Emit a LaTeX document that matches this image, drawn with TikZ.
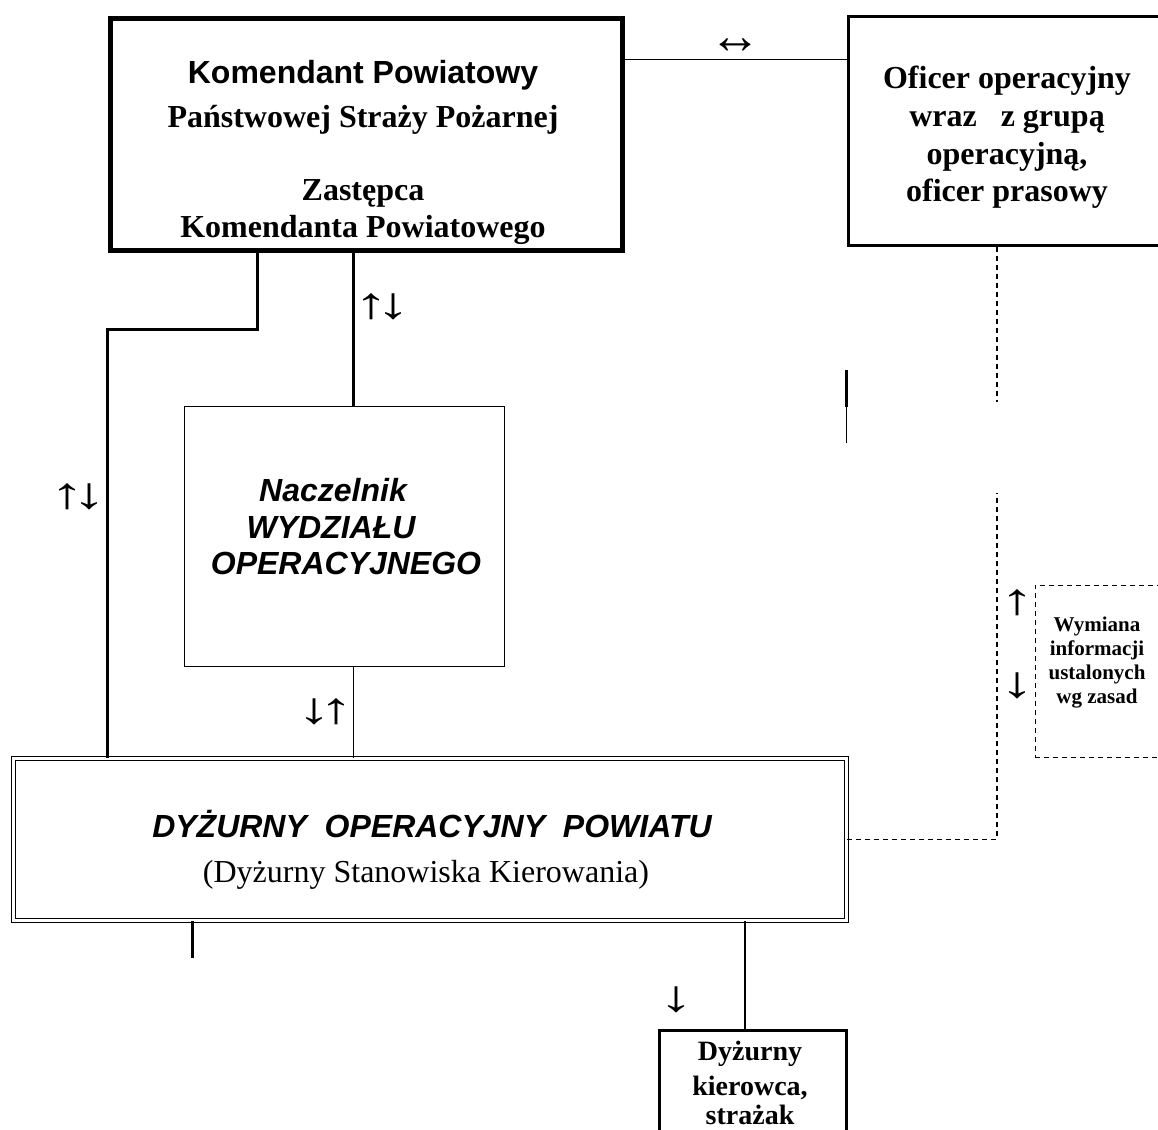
\documentclass[tikz,border=0pt]{standalone}
\usepackage{graphicx}
\usepackage{fontspec}
\setmainfont{Liberation Serif}
\setsansfont{Liberation Sans}
\newcommand{\wideup}{\scalebox{1.7}[1.1]{↑}}
\newcommand{\widedown}{\scalebox{1.7}[1.1]{↓}}
\begin{document}
\begin{tikzpicture}[x=1pt,y=-1pt,
  box/.style={draw, rectangle, inner sep=0pt, anchor=north west},
  big/.style={font=\fontsize{32}{37}\selectfont, inner sep=0pt, anchor=base},
  bigsans/.style={font=\fontsize{32}{37}\selectfont\sffamily\bfseries, inner sep=0pt, anchor=base},
  bigserif/.style={font=\fontsize{32}{37}\selectfont\bfseries, inner sep=0pt, anchor=base},
  bigit/.style={font=\fontsize{32}{37}\selectfont\sffamily\bfseries\itshape, inner sep=0pt, anchor=base},
  midserif/.style={font=\fontsize{28}{34}\selectfont\bfseries, inner sep=0pt, anchor=base},
  smallserif/.style={font=\fontsize{21}{24}\selectfont\bfseries, inner sep=0pt, anchor=base},
  arr/.style={font=\fontsize{40}{42}\selectfont, inner sep=0pt},
  heavy/.style={line width=3pt},
  thinline/.style={line width=1pt},
  dline/.style={line width=1.5pt, dash pattern=on 5pt off 4pt}]
\useasboundingbox (0,0) rectangle (1158,1129);

% boxes
\node[box, line width=5pt, minimum width=512pt, minimum height=231pt] (kom) at (107.5,16.5) {};
\node[box, line width=3pt, minimum width=317pt, minimum height=228pt] (ofi) at (846.5,15.5) {};
\node[box, line width=1.2pt, minimum width=320pt, minimum height=260pt] (nac) at (184,406) {};
\node[box, line width=1.5pt, double, double distance=2.5pt, minimum width=833pt, minimum height=162pt] (main) at (12.5,757.5) {};
\node[box, line width=3pt, minimum width=187pt, minimum height=115pt] (bot) at (657.5,1028.5) {};
\node[box, line width=1.3pt, dash pattern=on 5pt off 4pt, minimum width=135pt, minimum height=172pt] (wym) at (1034.5,584.5) {};

% texts
\node[bigsans] (kt1) at (363,84) {Komendant Powiatowy};
\node[bigserif] (kt2) at (363,128) {Państwowej Straży Pożarnej};
\node[bigserif] (kt3) at (363,200) {Zastępca};
\node[bigserif] (kt4) at (363,237) {Komendanta Powiatowego};

\node[bigserif] (ot1) at (1007,89) {Oficer operacyjny};
\node[bigserif] (ot2) at (1007,127) {wraz\ \ \ z grupą};
\node[bigserif] (ot3) at (1007,164) {operacyjną,};
\node[bigserif] (ot4) at (1007,201) {oficer prasowy};

\node[bigit] (nt1) at (333,501) {Naczelnik};
\node[bigit] (nt2) at (331,538) {WYDZIAŁU};
\node[bigit] (nt3) at (346,574) {OPERACYJNEGO};

\node[bigit] (mt1) at (432,837) {DYŻURNY\ \ OPERACYJNY\ \ POWIATU};
\node[big] (mt2) at (426,882) {(Dyżurny Stanowiska Kierowania)};

\node[midserif] (bt1) at (750,1060) {Dyżurny};
\node[midserif] (bt2) at (750,1095) {kierowca,};
\node[midserif] (bt3) at (750,1124) {strażak};

\node[smallserif] (wt1) at (1097,631) {Wymiana};
\node[smallserif] (wt2) at (1097,655) {informacji};
\node[smallserif] (wt3) at (1097,679) {ustalonych};
\node[smallserif] (wt4) at (1097,703) {wg zasad};

% column coordinates
\coordinate (c257) at (257,0);
\coordinate (c353) at (353,0);
\coordinate (c107) at (107,0);
\coordinate (c745) at (745,0);
\coordinate (c997) at (997,0);
\coordinate (r60) at (0,60);

% connectors
\draw[thinline] (kom.east |- r60) -- (ofi.west |- r60) node[midway, above=6pt, arr] (a1) {\scalebox{1.3}{↔}};
\draw[heavy] (kom.south -| c257) -- ++(0,77) -| (main.north -| c107);
\draw[heavy] (kom.south -| c353) -- (nac.north -| c353);
\draw[thinline] (nac.south -| c353) -- (main.north -| c353);
\draw[line width=2pt] (main.south -| c745) -- (bot.north -| c745);

\node[arr] (a2) at (382,307) {\wideup\kern-12pt\widedown};
\node[arr] (a3) at (78,497) {\wideup\kern-12pt\widedown};
\node[arr] (a4) at (325,712) {\widedown\kern-12pt\wideup};
\node[arr] (a5) at (676,1000) {\widedown};
\node[arr] (a6) at (1017,603) {\wideup};
\node[arr] (a7) at (1017,686) {\widedown};

% dashed links
\coordinate (d1) at (997,493);
\coordinate (d2) at (997,402);
\draw[dline] (main.east) -| (d1);
\draw[dline] (ofi.south -| c997) -- (d2);

% stubs
\coordinate (s1) at (192,958);
\draw[heavy] (main.south -| s1) -- (s1);
\coordinate (s2) at (846,370);
\coordinate (s3) at (846,407);
\coordinate (s4) at (846,443);
\draw[heavy] (s2) -- (s3);
\draw[thinline] (s3) -- (s4);
\end{tikzpicture}
\end{document}
